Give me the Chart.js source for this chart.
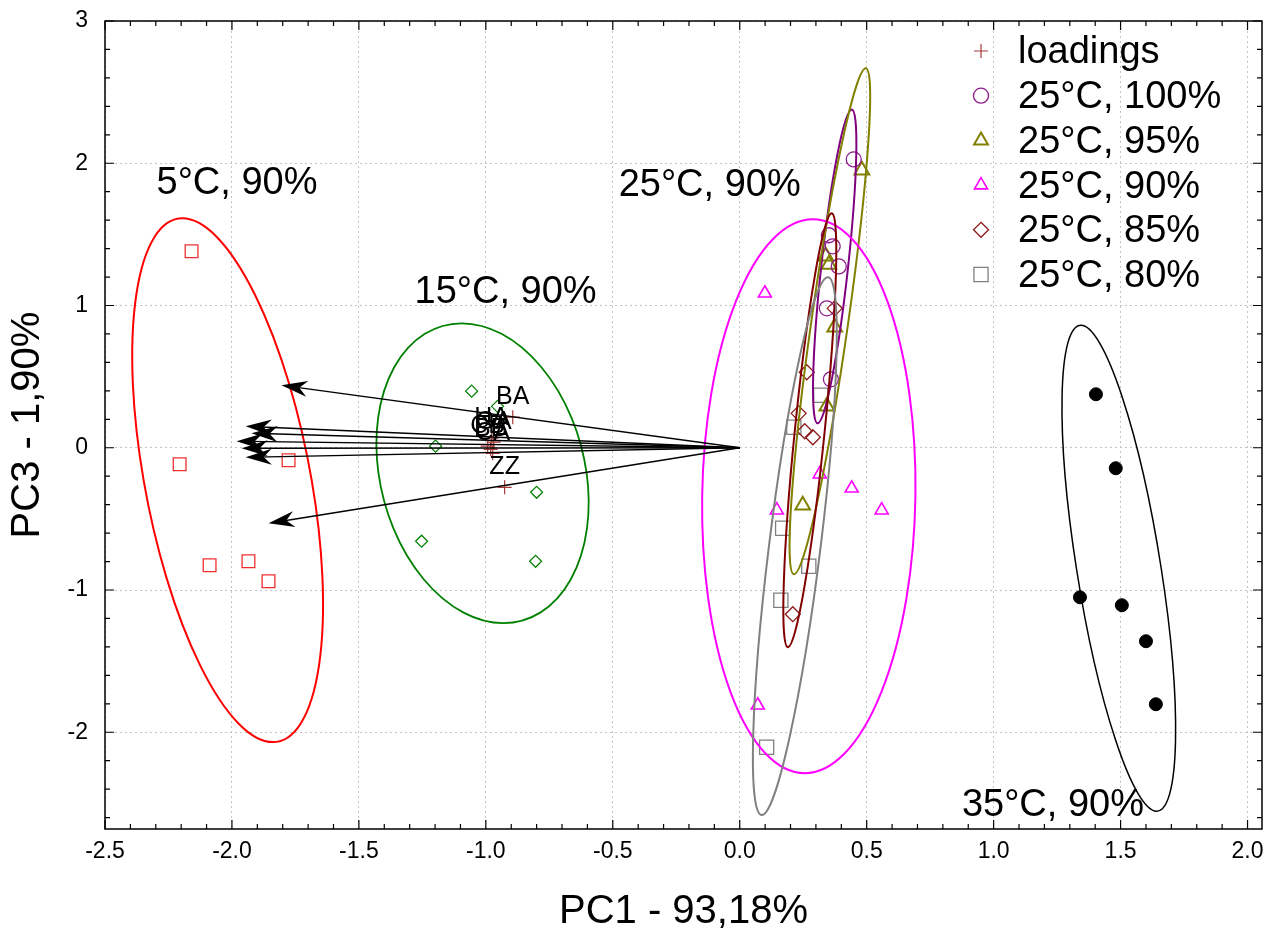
<!DOCTYPE html>
<html>
<head>
<meta charset="utf-8">
<script src="https://cdn.jsdelivr.net/npm/chart.js@4/dist/chart.umd.min.js"></script>
<style>
  body { margin: 0; background: #fff; }
  canvas { display: block; }
</style>
</head>
<body>
<canvas id="chartCanvas" width="1269" height="932"></canvas>
<script>
// ---- data ----
const xTicks = [-2.5, -2.0, -1.5, -1.0, -0.5, 0.0, 0.5, 1.0, 1.5, 2.0];
const yTicks = [-2, -1, 0, 1, 2, 3];

// loadings + their arrows
const loadNames = ['BA', 'HA', 'GA', 'CB', 'BB', 'CA', 'ZZ'];
const loadX = [-0.894, -0.977, -0.969, -0.993, -0.981, -0.973, -0.926];
const loadY = [0.215, 0.067, 0.039, 0.011, -0.011, -0.039, -0.278];
const arrowX = [-1.805, -1.946, -1.923, -1.982, -1.962, -1.946, -1.856];
const arrowY = [0.439, 0.151, 0.102, 0.046, -0.004, -0.067, -0.531];

// 25°C groups
const c100X = [0.449, 0.351, 0.366, 0.390, 0.343, 0.359];
const c100Y = [2.027, 1.494, 1.416, 1.275, 0.980, 0.481];
const c95X = [0.481, 0.339, 0.351, 0.374, 0.343, 0.248];
const c95Y = [1.950, 1.346, 1.289, 0.847, 0.292, -0.404];
const c90X = [0.099, 0.315, 0.441, 0.146, 0.559, 0.071];
const c90Y = [1.086, -0.186, -0.285, -0.439, -0.439, -1.810];
const c85X = [0.264, 0.232, 0.256, 0.288, 0.209, 0.374];
const c85Y = [0.531, 0.242, 0.116, 0.074, -1.170, 0.980];
const c80X = [0.319, 0.213, 0.169, 0.272, 0.162, 0.106];
const c80Y = [0.369, 0.144, -0.566, -0.833, -1.072, -2.105];

// other temperatures
const t5X = [-2.159, -2.206, -1.777, -2.088, -1.935, -1.856];
const t5Y = [1.381, -0.116, -0.088, -0.826, -0.798, -0.938];
const t15X = [-1.056, -0.954, -1.198, -1.253, -0.800, -0.804];
const t15Y = [0.398, 0.291, 0.011, -0.657, -0.313, -0.798];
const t35X = [1.403, 1.481, 1.340, 1.505, 1.600, 1.639];
const t35Y = [0.376, -0.144, -1.051, -1.107, -1.360, -1.803];

// confidence ellipses: centre, topmost point, horizontal half width through centre
const ellNames = ['25°C, 100%', '25°C, 95%', '25°C, 90%', '25°C, 85%', '25°C, 80%', '5°C, 90%', '15°C, 90%', '35°C, 90%'];
const ellCx = [0.374, 0.355, 0.272, 0.276, 0.217, -2.017, -1.013, 1.493];
const ellCy = [1.275, 0.889, -0.341, 0.123, -0.692, -0.228, -0.179, -0.847];
const ellTopX = [0.441, 0.496, 0.288, 0.362, 0.347, -2.195, -1.095, 1.344];
const ellTopY = [2.378, 2.667, 1.606, 1.648, 1.198, 1.613, 0.875, 0.861];
const ellHalfW = [0.053, 0.073, 0.420, 0.059, 0.102, 0.331, 0.410, 0.167];

// group captions
const capText = ['5°C, 90%', '15°C, 90%', '25°C, 90%', '35°C, 90%'];
const capX = [-2.297, -1.281, -0.477, 0.875];
const capY = [1.781, 1.015, 1.767, -2.590];

// ---- styles ----
const FONT = "'Liberation Sans', Arial, sans-serif";
const ellColors = ['#800080', '#808000', '#ff00ff', '#800000', '#808080', '#ff0000', '#008000', '#000000'];
const ellWidths = [2, 2, 2, 2, 2, 2, 1.8, 1.5];

function pts(xs, ys) {
    return xs.map((x, i) => ({x: x, y: ys[i]}))
}

function ds(label, xs, ys, style, color, radius, bw, fill) {
    return {
        label: label,
        data: pts(xs, ys),
        pointStyle: style,
        pointRadius: radius,
        pointHoverRadius: radius,
        pointBorderColor: color,
        pointBackgroundColor: fill || 'rgba(0,0,0,0)',
        pointBorderWidth: bw,
        showLine: false
    }
}

const datasets = [
    ds('loadings', loadX, loadY, 'cross', '#a83a3a', 7, 1.2),
    ds('25°C, 100%', c100X, c100Y, 'circle', '#8e1c8e', 7.5, 1.3),
    ds('25°C, 95%', c95X, c95Y, 'triangle', '#808000', 8.5, 2),
    ds('25°C, 90%', c90X, c90Y, 'triangle', '#ff00ff', 7.5, 1.6),
    ds('25°C, 85%', c85X, c85Y, 'rectRot', '#8b1a1a', 7.5, 1.3),
    ds('25°C, 80%', c80X, c80Y, 'rect', '#808080', 10, 1.3),
    ds('5°C, 90%', t5X, t5Y, 'rect', '#f03030', 9, 1.3),
    ds('15°C, 90%', t15X, t15Y, 'rectRot', '#008000', 6, 1.2),
    ds('35°C, 90%', t35X, t35Y, 'circle', '#000000', 6.5, 1, '#000000')
];

// small marker drawer for the legend
function marker(ctx, style, x, y, r, color, bw) {
    ctx.save();
    ctx.strokeStyle = color;
    ctx.lineWidth = bw;
    ctx.beginPath();
    if (style === 'cross') {
        ctx.moveTo(x - r, y); ctx.lineTo(x + r, y);
        ctx.moveTo(x, y - r); ctx.lineTo(x, y + r);
    } else if (style === 'circle') {
        ctx.arc(x, y, r, 0, Math.PI * 2);
    } else if (style === 'triangle') {
        for (let k = 0; k < 3; k++) {
            const a = k * 2 * Math.PI / 3;
            const px = x + Math.sin(a) * r, py = y - Math.cos(a) * r;
            if (k === 0) ctx.moveTo(px, py); else ctx.lineTo(px, py);
        }
        ctx.closePath();
    } else if (style === 'rectRot') {
        ctx.moveTo(x, y - r); ctx.lineTo(x + r, y); ctx.lineTo(x, y + r); ctx.lineTo(x - r, y); ctx.closePath();
    } else {
        const s = r * Math.SQRT1_2;
        ctx.rect(x - s, y - s, 2 * s, 2 * s);
    }
    ctx.stroke();
    ctx.restore();
}

// ellipses
const ellipsePlugin = {
    id: 'ellipses',
    afterDatasetsDraw(chart) {
        const ctx = chart.ctx, sx = chart.scales.x, sy = chart.scales.y, a = chart.chartArea;
        ctx.save();
        ctx.beginPath();
        ctx.rect(a.left, a.top, a.right - a.left, a.bottom - a.top);
        ctx.clip();
        ellCx.forEach((cx, i) => {
            const px = sx.getPixelForValue(cx), py = sy.getPixelForValue(ellCy[i]);
            const ux = sx.getPixelForValue(ellTopX[i]) - px, uy = sy.getPixelForValue(ellTopY[i]) - py;
            const vx = sx.getPixelForValue(cx + ellHalfW[i]) - px;
            ctx.beginPath();
            ctx.save();
            ctx.transform(vx, 0, ux, uy, px, py);
            ctx.arc(0, 0, 1, 0, Math.PI * 2);
            ctx.restore();
            ctx.strokeStyle = ellColors[i];
            ctx.lineWidth = ellWidths[i];
            ctx.stroke();
        });
        ctx.restore();
    }
};

// loading arrows + labels + captions
const annotPlugin = {
    id: 'annot',
    afterDatasetsDraw(chart) {
        const ctx = chart.ctx, sx = chart.scales.x, sy = chart.scales.y;
        const ox = sx.getPixelForValue(0), oy = sy.getPixelForValue(0);
        ctx.save();
        ctx.strokeStyle = '#000';
        ctx.fillStyle = '#000';
        arrowX.forEach((x, i) => {
            const tx = sx.getPixelForValue(x), ty = sy.getPixelForValue(arrowY[i]);
            const ang = Math.atan2(ty - oy, tx - ox);
            ctx.lineWidth = 1.4;
            ctx.beginPath();
            ctx.moveTo(ox, oy);
            ctx.lineTo(tx - Math.cos(ang) * 10, ty - Math.sin(ang) * 10);
            ctx.stroke();
            // swallow-tail head
            ctx.save();
            ctx.translate(tx, ty);
            ctx.rotate(ang);
            ctx.beginPath();
            ctx.moveTo(0, 0);
            ctx.lineTo(-26, -8);
            ctx.lineTo(-18, 0);
            ctx.lineTo(-26, 8);
            ctx.closePath();
            ctx.fill();
            ctx.restore();
        });
        // loading names
        ctx.font = '25px ' + FONT;
        ctx.textAlign = 'center';
        ctx.textBaseline = 'alphabetic';
        loadNames.forEach((n, i) => {
            ctx.fillText(n, sx.getPixelForValue(loadX[i]), sy.getPixelForValue(loadY[i]) - 13);
        });
        // group captions
        ctx.font = '38px ' + FONT;
        ctx.textAlign = 'left';
        capText.forEach((t, i) => {
            ctx.fillText(t, sx.getPixelForValue(capX[i]), sy.getPixelForValue(capY[i]));
        });
        ctx.restore();
    }
};

// frame, inward tick marks, legend
const framePlugin = {
    id: 'frame',
    afterDraw(chart) {
        const ctx = chart.ctx, a = chart.chartArea, sx = chart.scales.x, sy = chart.scales.y;
        ctx.save();
        ctx.strokeStyle = '#000';
        ctx.lineWidth = 1.5;
        ctx.strokeRect(a.left, a.top, a.right - a.left, a.bottom - a.top);
        ctx.lineWidth = 1.2;
        ctx.beginPath();
        for (let k = -25; k <= 20; k++) {
            const x = sx.getPixelForValue(k / 10);
            const len = (k % 5 === 0) ? 9 : 5;
            ctx.moveTo(x, a.bottom); ctx.lineTo(x, a.bottom - len);
            ctx.moveTo(x, a.top); ctx.lineTo(x, a.top + len);
        }
        for (let k = -13; k <= 15; k++) {
            const y = sy.getPixelForValue(k / 5);
            const len = (k % 5 === 0) ? 9 : 5;
            ctx.moveTo(a.left, y); ctx.lineTo(a.left + len, y);
            ctx.moveTo(a.right, y); ctx.lineTo(a.right - len, y);
        }
        ctx.stroke();

        // legend (first six series)
        const lx = a.right - 281, tx = a.right - 244;
        ctx.font = '38px ' + FONT;
        ctx.fillStyle = '#000';
        ctx.textAlign = 'left';
        ctx.textBaseline = 'middle';
        chart.data.datasets.slice(0, 6).forEach((d, i) => {
            const y = a.top + 30 + i * 44.7;
            const r = Math.min(d.pointRadius, 8);
            marker(ctx, d.pointStyle, lx, y, d.pointStyle === 'rect' ? 10 : r, d.pointBorderColor, d.pointBorderWidth);
            ctx.fillText(d.label, tx, y + 2);
        });
        ctx.restore();
    }
};

const ctx = document.getElementById('chartCanvas');
const myChart = new Chart(ctx, {
    type: 'scatter',
    data: {datasets: datasets},
    options: {
        responsive: false,
        animation: false,
        events: [],
        layout: {autoPadding: false, padding: {top: 21, right: 7, left: 0, bottom: 0}},
        plugins: {legend: {display: false}, tooltip: {enabled: false}},
        scales: {
            x: {
                type: 'linear',
                min: -2.5,
                max: 2.057,
                afterBuildTicks: s => { s.ticks = xTicks.map(v => ({value: v})) },
                afterFit: s => { s.height = 103; s.paddingLeft = 0; s.paddingRight = 0 },
                grid: {color: '#c4c4c4', lineWidth: 1, drawTicks: false},
                border: {display: false, dash: [2, 3]},
                ticks: {
                    padding: 9, color: '#000', autoSkip: false, maxRotation: 0,
                    font: {family: FONT, size: 23},
                    callback: v => v.toFixed(1)
                },
                title: {display: true, text: 'PC1 - 93,18%', color: '#000',
                    font: {family: FONT, size: 40, lineHeight: 1}, padding: {top: 0, bottom: 0}}
            },
            y: {
                type: 'linear',
                min: -2.68,
                max: 3,
                afterBuildTicks: s => { s.ticks = yTicks.map(v => ({value: v})) },
                afterFit: s => { s.width = 105; s.paddingTop = 0; s.paddingBottom = 0 },
                grid: {color: '#c4c4c4', lineWidth: 1, drawTicks: false},
                border: {display: false, dash: [2, 3]},
                ticks: {
                    padding: 17, color: '#000', autoSkip: false,
                    font: {family: FONT, size: 23},
                    callback: v => String(v)
                },
                title: {display: true, text: 'PC3 - 1,90%', color: '#000',
                    font: {family: FONT, size: 40, lineHeight: 1}, padding: {top: 8, bottom: 0}}
            }
        }
    },
    plugins: [ellipsePlugin, annotPlugin, framePlugin]
});
</script>
</body>
</html>
